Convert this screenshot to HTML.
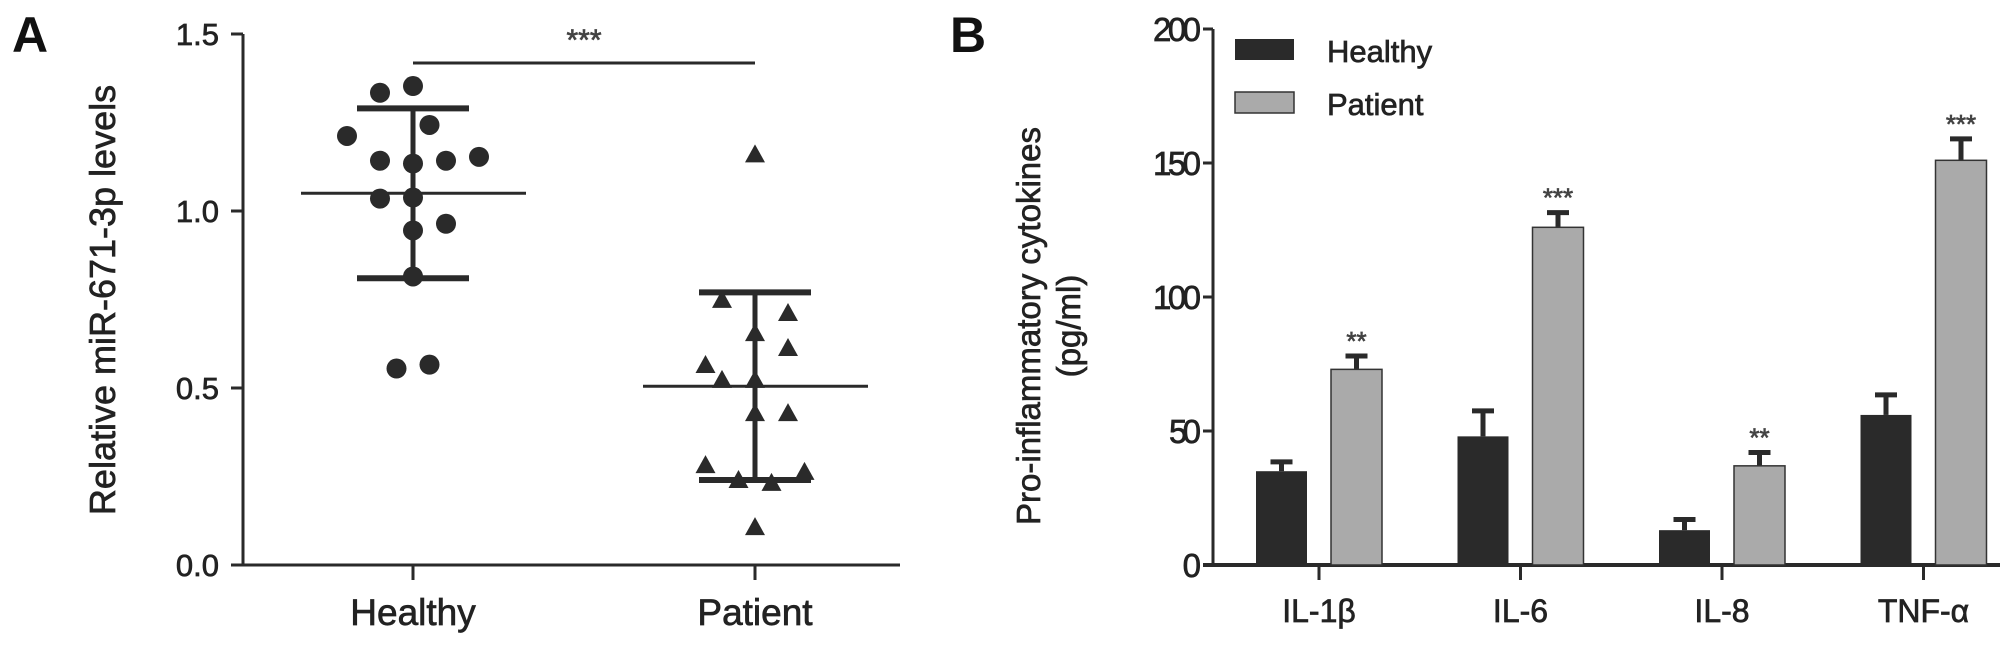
<!DOCTYPE html>
<html><head><meta charset="utf-8"><style>
html,body{margin:0;padding:0;background:#fff;}
svg{display:block;font-family:"Liberation Sans",Arial,sans-serif;}
svg text{stroke:#222;stroke-width:0.7px;}
</style></head><body>
<svg id="fig" width="2008" height="645" viewBox="0 0 2008 645">
<g id="pa"></g>
<g id="pb"></g>
</svg>
<script>
// Panel A data
const groupsA = ["Healthy", "Patient"];
const healthyVals = [1.334,1.353,1.212,1.243,1.142,1.134,1.142,1.153,1.035,1.038,0.945,0.964,0.815,0.555,0.566];
const healthyJitter = [-1,0,-2,0.5,-1,0,1,2,-1,0,0,1,0,-0.5,0.5];
const patientVals = [1.16,0.749,0.712,0.655,0.613,0.565,0.523,0.523,0.429,0.429,0.282,0.24,0.232,0.263,0.107];
const patientJitter = [0,-1,1,0,1,-1.5,-1,0,0,1,-1.5,-0.5,0.5,1.5,0];
const meansA = [1.05, 0.505];
const sdA = [0.24, 0.265];
const ticksA = [0, 0.5, 1.0, 1.5];
const tickLabelsA = ["0.0","0.5","1.0","1.5"];
// Panel B data
const cats = ["IL-1β","IL-6","IL-8","TNF-α"];
const healthyB = [35, 48, 13, 56];
const healthyErr = [3.5, 9.5, 4, 7.5];
const patientB = [73, 126, 37, 151];
const patientErr = [5, 5.5, 5, 8];
const sigB = ["**","***","**","***"];
const ticksB = [0,50,100,150,200];

const NS="http://www.w3.org/2000/svg";
function mk(parent, tag, attrs, text){const e=document.createElementNS(NS,tag);for(const k in attrs)e.setAttribute(k,attrs[k]);if(text!==undefined)e.textContent=text;parent.appendChild(e);return e;}
const dark="#2a2a2a";

// ---------- Panel A ----------
const pa=document.getElementById('pa');
const ax0=243, yA=v=>565-v*354;
const xA=i=>413+i*342;
let e;
e=mk(pa,'text',{x:12,y:52,'font-size':50,fill:'#111','font-weight':'bold',style:'stroke:none'},'A');


e=mk(pa,'line',{x1:ax0,y1:yA(1.5),x2:ax0,y2:566,stroke:dark,'stroke-width':3});


e=mk(pa,'line',{x1:ax0-12,y1:565,x2:900,y2:565,stroke:dark,'stroke-width':3});


ticksA.forEach((t,i)=>{
  e=mk(pa,'line',{x1:ax0-12,y1:yA(t),x2:ax0,y2:yA(t),stroke:dark,'stroke-width':3});
  
  
  e=mk(pa,'text',{x:219,y:yA(t)+11,'font-size':31,'text-anchor':'end',fill:'#222'},tickLabelsA[i]);
  
  
});
groupsA.forEach((g,i)=>{
  e=mk(pa,'line',{x1:xA(i),y1:565,x2:xA(i),y2:580,stroke:dark,'stroke-width':3});
  
  
  e=mk(pa,'text',{x:xA(i),y:625,'font-size':37,'text-anchor':'middle',fill:'#222'},g);
  
  
});
e=mk(pa,'text',{x:0,y:0,'font-size':36,'text-anchor':'middle',fill:'#222',transform:'translate(115,300) rotate(-90)'},'Relative miR-671-3p levels');


// points
healthyVals.forEach((v,i)=>{
  e=mk(pa,'circle',{cx:xA(0)+healthyJitter[i]*33,cy:yA(v),r:10,fill:dark});
  
  
});
patientVals.forEach((v,i)=>{
  const cx=xA(1)+patientJitter[i]*33, cy=yA(v);
  e=mk(pa,'polygon',{points:`${cx},${cy-10} ${cx+10},${cy+8} ${cx-10},${cy+8}`,fill:dark});
  
  
});
groupsA.forEach((g,i)=>{
  const cx=xA(i);
  e=mk(pa,'line',{x1:cx-112,y1:yA(meansA[i]),x2:cx+113,y2:yA(meansA[i]),stroke:dark,'stroke-width':3});
  
  
  e=mk(pa,'line',{x1:cx,y1:yA(meansA[i]+sdA[i]),x2:cx,y2:yA(meansA[i]-sdA[i]),stroke:dark,'stroke-width':5});
  
  
  [1,-1].forEach(s=>{
    e=mk(pa,'line',{x1:cx-56,y1:yA(meansA[i]+s*sdA[i]),x2:cx+56,y2:yA(meansA[i]+s*sdA[i]),stroke:dark,'stroke-width':6});
    
    
  });
});
e=mk(pa,'line',{x1:xA(0),y1:63,x2:xA(1),y2:63,stroke:dark,'stroke-width':3});


e=mk(pa,'text',{x:(xA(0)+xA(1))/2,y:50,'font-size':30,'text-anchor':'middle',fill:'#444',style:'stroke:#444'},'***');



// ---------- Panel B ----------
const pb=document.getElementById('pb');
const bx0=1213, yB=v=>565-v*2.68;
const xB=i=>1319+i*201.5;
const bw=51, off=37.5;
e=mk(pb,'text',{x:950,y:52,'font-size':50,fill:'#111','font-weight':'bold',style:'stroke:none'},'B');


e=mk(pb,'line',{x1:bx0,y1:yB(200),x2:bx0,y2:566,stroke:dark,'stroke-width':3});


e=mk(pb,'line',{x1:bx0-10,y1:565,x2:2000,y2:565,stroke:dark,'stroke-width':4});


ticksB.forEach(t=>{
  e=mk(pb,'line',{x1:bx0-10,y1:yB(t),x2:bx0,y2:yB(t),stroke:dark,'stroke-width':3});
  
  
  e=mk(pb,'text',{x:1201,y:yB(t)+12,'font-size':33,'text-anchor':'end',fill:'#222',textLength:t>=100?48:(t>=10?32:16)},String(t));
  
  
});
e=mk(pb,'text',{x:0,y:0,'font-size':33,'text-anchor':'middle',fill:'#222',transform:'translate(1040,326) rotate(-90)'},'Pro-inflammatory cytokines');


e=mk(pb,'text',{x:0,y:0,'font-size':33,'text-anchor':'middle',fill:'#222',transform:'translate(1080,326) rotate(-90)'},'(pg/ml)');


cats.forEach((c,i)=>{
  const cx=xB(i);
  let x=cx-off;
  e=mk(pb,'line',{x1:x,y1:yB(healthyB[i]),x2:x,y2:yB(healthyB[i]+healthyErr[i]),stroke:dark,'stroke-width':5});
  
  
  e=mk(pb,'line',{x1:x-11,y1:yB(healthyB[i]+healthyErr[i]),x2:x+11,y2:yB(healthyB[i]+healthyErr[i]),stroke:dark,'stroke-width':5});
  
  
  e=mk(pb,'rect',{x:x-bw/2,y:yB(healthyB[i]),width:bw,height:565-yB(healthyB[i]),fill:dark});
  
  
  x=cx+off;
  e=mk(pb,'line',{x1:x,y1:yB(patientB[i]),x2:x,y2:yB(patientB[i]+patientErr[i]),stroke:dark,'stroke-width':5});
  
  
  e=mk(pb,'line',{x1:x-11,y1:yB(patientB[i]+patientErr[i]),x2:x+11,y2:yB(patientB[i]+patientErr[i]),stroke:dark,'stroke-width':5});
  
  
  e=mk(pb,'rect',{x:x-bw/2,y:yB(patientB[i]),width:bw,height:565-yB(patientB[i]),fill:'#aaaaaa',stroke:'#333','stroke-width':1.5});
  
  
  e=mk(pb,'text',{x:x,y:yB(patientB[i]+patientErr[i])-6,'font-size':26,'text-anchor':'middle',fill:'#444',style:'stroke:#444'},sigB[i]);
  
  
  e=mk(pb,'line',{x1:cx,y1:565,x2:cx,y2:580,stroke:dark,'stroke-width':3});
  
  
  e=mk(pb,'text',{x:cx,y:622,'font-size':32,'text-anchor':'middle',fill:'#222'},c);
  
  
});
// legend
e=mk(pb,'rect',{x:1235,y:39,width:59,height:21,fill:dark});


e=mk(pb,'text',{x:1327,y:62,'font-size':31,fill:'#222'},'Healthy');


e=mk(pb,'rect',{x:1235,y:92,width:59,height:21,fill:'#aaaaaa',stroke:'#333','stroke-width':1.5});


e=mk(pb,'text',{x:1327,y:115,'font-size':31,fill:'#222'},'Patient');


</script>
</body></html>
